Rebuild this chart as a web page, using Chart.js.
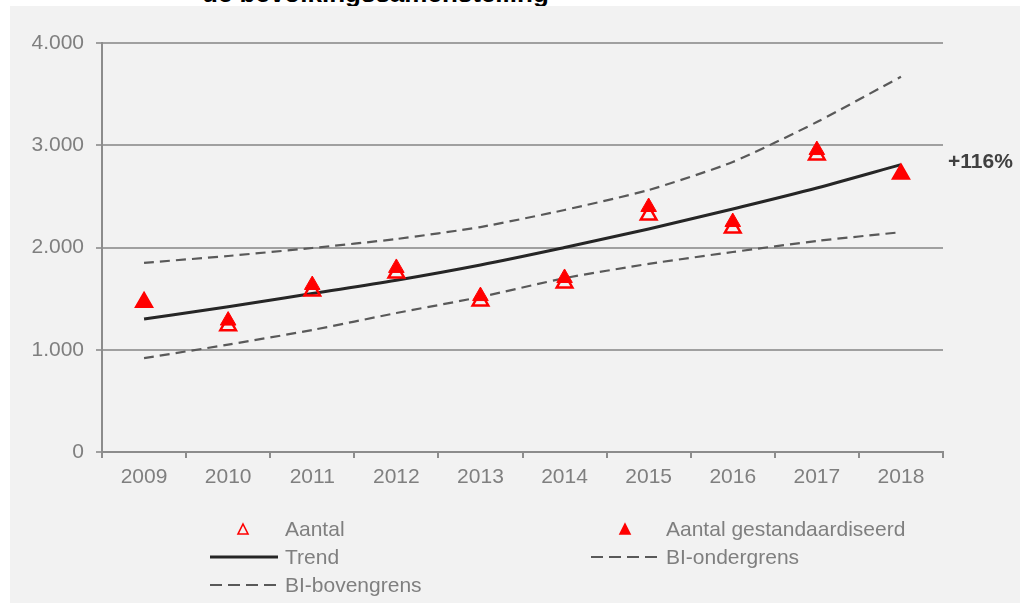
<!DOCTYPE html>
<html>
<head>
<meta charset="utf-8">
<script src="https://cdn.jsdelivr.net/npm/chart.js@4/dist/chart.umd.min.js"></script>
<style>
  html, body { margin: 0; padding: 0; background: #fff; }
  body { width: 1020px; height: 603px; position: relative; overflow: hidden; font-family: 'Liberation Sans', Arial, sans-serif; }
  #title { position: absolute; z-index: 0; left: 202px; top: -20px; font-size: 26px; line-height: 26px; font-weight: bold; color: #000; white-space: nowrap; }
  #panel { position: absolute; z-index: 1; left: 10px; top: 6px; right: 0; bottom: 0; background: #f2f2f2; }
  #chart { position: absolute; z-index: 2; left: 0; top: 0; }
  #legend { position: absolute; z-index: 2; left: 0; top: 0; }
  .lg { position: absolute; font-size: 21px; line-height: 24px; color: #7f7f7f; white-space: nowrap; }
  .lgm { position: absolute; }
</style>
</head>
<body>
<div id="title">de bevolkingssamenstelling</div>
<div id="panel"></div>
<canvas id="chart" width="1020" height="603"></canvas>
<div id="legend"></div>
<script>
const years = ['2009', '2010', '2011', '2012', '2013', '2014', '2015', '2016', '2017', '2018'];
const aantal = [1465, 1235, 1575, 1750, 1477, 1653, 2318, 2191, 2905, 2720];
const aantalStd = [1467, 1285, 1633, 1800, 1525, 1702, 2396, 2249, 2953, 2719];
const trend = [1300, 1420, 1550, 1680, 1829, 2000, 2181, 2377, 2582, 2810];
const biOnder = [918, 1050, 1193, 1359, 1516, 1700, 1840, 1956, 2064, 2150];
const biBoven = [1850, 1917, 1995, 2083, 2200, 2367, 2562, 2836, 3227, 3670];
const yTicks = [0, 1000, 2000, 3000, 4000];
const trendLabel = '+116%';

const font = "'Liberation Sans', Arial, sans-serif";
const red = '#ff0000';

function fmt(v) {
  return String(v).replace(/\B(?=(\d{3})+(?!\d))/g, '.');
}

// label at the end of the trend line
const endLabel = {
  id: 'endLabel',
  afterDatasetsDraw(chart) {
    const y = chart.scales.y.getPixelForValue(trend[trend.length - 1]);
    const ctx = chart.ctx;
    ctx.save();
    ctx.font = 'bold 21px ' + font;
    ctx.fillStyle = '#404040';
    ctx.textBaseline = 'middle';
    ctx.textAlign = 'left';
    ctx.fillText(trendLabel, chart.chartArea.right + 5, y - 2);
    ctx.restore();
  }
};

new Chart(document.getElementById('chart'), {
  type: 'line',
  data: {
    labels: years,
    datasets: [
      { label: 'Aantal gestandaardiseerd', data: aantalStd, showLine: false, pointStyle: 'triangle',
        pointRadius: 9, pointBackgroundColor: red, pointBorderColor: red, pointBorderWidth: 1, order: 0 },
      { label: 'Aantal', data: aantal, showLine: false, pointStyle: 'triangle',
        pointRadius: 9, pointBackgroundColor: 'rgba(0,0,0,0)', pointBorderColor: red, pointBorderWidth: 2.5, order: 1 },
      { label: 'Trend', data: trend, borderColor: '#262626', borderWidth: 3, pointRadius: 0,
        cubicInterpolationMode: 'monotone', order: 2 },
      { label: 'BI-ondergrens', data: biOnder, borderColor: '#595959', borderWidth: 2.2, borderDash: [10, 6],
        pointRadius: 0, tension: 0.2, order: 3 },
      { label: 'BI-bovengrens', data: biBoven, borderColor: '#595959', borderWidth: 2.2, borderDash: [10, 6],
        pointRadius: 0, tension: 0.2, order: 4 }
    ]
  },
  options: {
    responsive: false,
    animation: false,
    layout: { padding: { left: 0, right: 77, top: 43, bottom: 0 } },
    plugins: { legend: { display: false }, title: { display: false }, tooltip: { enabled: false } },
    scales: {
      x: {
        offset: true,
        grid: { offset: true, drawOnChartArea: false, tickLength: 6, color: '#8c8c8c', lineWidth: 2 },
        border: { color: '#8c8c8c', width: 2 },
        ticks: { color: '#7f7f7f', font: { family: font, size: 21 }, padding: 7, maxRotation: 0 },
        afterFit: s => { s.height = 151; }
      },
      y: {
        min: 0,
        max: 4000,
        afterBuildTicks: s => { s.ticks = yTicks.map(v => ({ value: v })); },
        grid: { color: '#a0a0a0', lineWidth: 2, tickLength: 6 },
        border: { color: '#8c8c8c', width: 2 },
        ticks: { color: '#7f7f7f', font: { family: font, size: 21 }, padding: 12, callback: v => fmt(v) },
        afterFit: s => { s.width = 102; }
      }
    }
  },
  plugins: [endLabel]
});

// legend in two columns, like the original
const legendItems = [
  { text: 'Aantal', kind: 'open', x: 243, tx: 285, y: 529 },
  { text: 'Aantal gestandaardiseerd', kind: 'filled', x: 625, tx: 666, y: 529 },
  { text: 'Trend', kind: 'solid', x: 210, tx: 285, y: 557 },
  { text: 'BI-ondergrens', kind: 'dash', x: 591, tx: 666, y: 557 },
  { text: 'BI-bovengrens', kind: 'dash', x: 210, tx: 285, y: 585 }
];
const legend = document.getElementById('legend');
legendItems.forEach(it => {
  let svg;
  if (it.kind === 'open' || it.kind === 'filled') {
    const fill = it.kind === 'filled' ? red : 'none';
    svg = `<svg class="lgm" width="14" height="14" style="left:${it.x - 7}px;top:${it.y - 7}px">
      <polygon points="7,2 12,12 2,12" fill="${fill}" stroke="${red}" stroke-width="1.6"/></svg>`;
  } else {
    const dash = it.kind === 'dash' ? 'stroke-dasharray="12 6"' : '';
    const col = it.kind === 'dash' ? '#595959' : '#262626';
    const w = it.kind === 'dash' ? 2 : 3;
    svg = `<svg class="lgm" width="70" height="8" style="left:${it.x}px;top:${it.y - 4}px">
      <line x1="0" y1="4" x2="68" y2="4" stroke="${col}" stroke-width="${w}" ${dash}/></svg>`;
  }
  legend.insertAdjacentHTML('beforeend', svg);
  const d = document.createElement('div');
  d.className = 'lg';
  d.style.left = it.tx + 'px';
  d.style.top = (it.y - 12) + 'px';
  d.textContent = it.text;
  legend.appendChild(d);
});
</script>
</body>
</html>
